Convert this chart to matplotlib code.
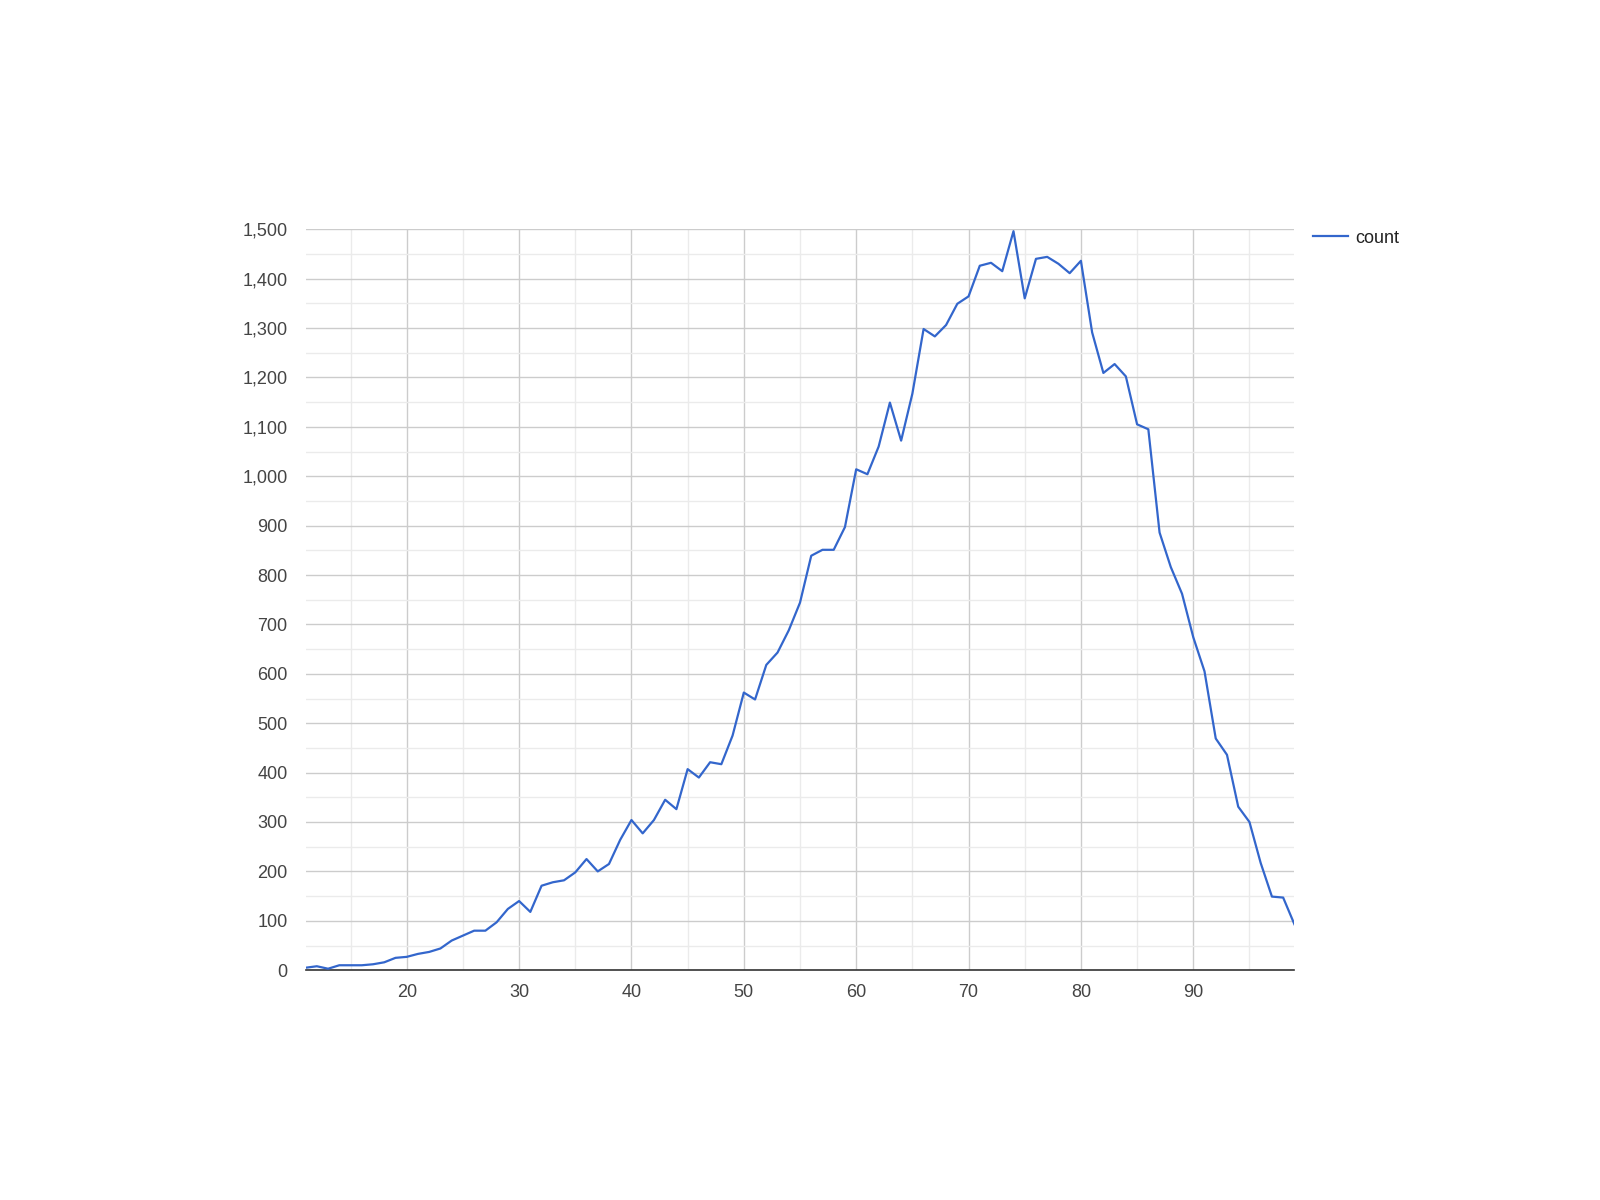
import matplotlib
matplotlib.use("Agg")
import matplotlib.pyplot as plt
from matplotlib.ticker import FuncFormatter, MultipleLocator

x = list(range(11, 100))
count = [5, 8, 3, 10, 10, 10, 12, 16, 25, 27,
         33, 37, 44, 60, 70, 80, 80, 97, 124, 140,
         118, 171, 178, 182, 198, 225, 200, 215, 264, 304,
         277, 304, 345, 326, 407, 390, 421, 417, 475, 562,
         548, 618, 643, 688, 744, 839, 851, 851, 897, 1014,
         1004, 1060, 1149, 1072, 1167, 1298, 1283, 1306, 1349, 1364,
         1426, 1432, 1415, 1496, 1360, 1440, 1444, 1430, 1411, 1436,
         1291, 1209, 1227, 1202, 1105, 1095, 886, 816, 762, 674,
         605, 469, 436, 331, 300, 217, 149, 147, 93]

plt.rcParams["font.family"] = ["Liberation Sans", "DejaVu Sans"]

fig = plt.figure(figsize=(16, 12), dpi=100)
ax = fig.add_axes([0.191, 0.1915, 0.618, 0.6175])

ax.plot(x, count, color="#3366cc", lw=1.6, label="count", zorder=3)

ax.set_xlim(11, 99)
ax.set_ylim(0, 1500)
ax.xaxis.set_major_locator(MultipleLocator(10))
ax.xaxis.set_minor_locator(MultipleLocator(5))
ax.yaxis.set_major_locator(MultipleLocator(100))
ax.yaxis.set_minor_locator(MultipleLocator(50))
ax.yaxis.set_major_formatter(FuncFormatter(lambda v, p: f"{int(v):,}"))

ax.grid(which="major", color="#cccccc", lw=1.0)
ax.grid(which="minor", color="#ebebeb", lw=1.0)
ax.set_axisbelow(True)
for s in ["top", "right", "left"]:
    ax.spines[s].set_visible(False)
ax.spines["bottom"].set_color("#333333")
ax.spines["bottom"].set_linewidth(1.2)
ax.tick_params(which="both", length=0, colors="#444444", labelsize=13)
ax.tick_params(axis="y", pad=13)
ax.tick_params(axis="x", pad=10)

leg = ax.legend(loc="upper left", bbox_to_anchor=(1.012, 1.009), frameon=False,
                fontsize=13, handlelength=1.9, handletextpad=0.4, borderaxespad=0)
for t in leg.get_texts():
    t.set_color("#222222")

fig.savefig("out.png", dpi=100)
